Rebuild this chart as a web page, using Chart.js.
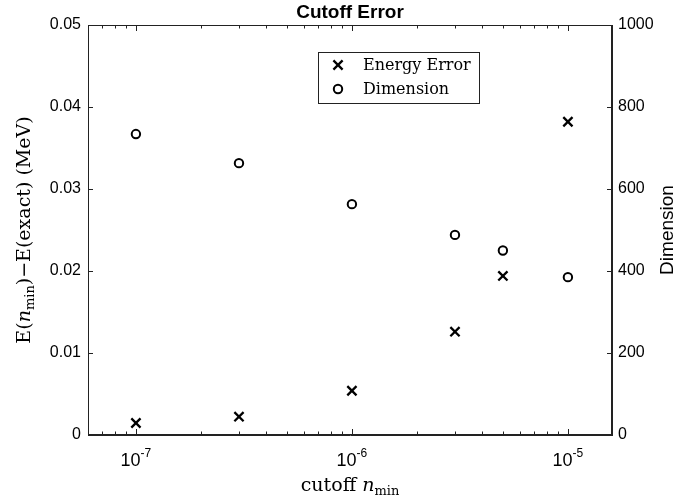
<!DOCTYPE html>
<html>
<head>
<meta charset="utf-8">
<script src="https://cdn.jsdelivr.net/npm/chart.js@4.4.1/dist/chart.umd.min.js"></script>
<style>
  html, body { margin: 0; padding: 0; background: #fff; }
  #wrap { width: 679px; height: 504px; }
</style>
</head>
<body>
<div id="wrap"><canvas id="chart" width="679" height="504"></canvas></div>
<script>
// values
const cutoffs = [1e-7, 3e-7, 1e-6, 3e-6, 5e-6, 1e-5];
const energyError = [0.00146, 0.00223, 0.0054, 0.0126, 0.0194, 0.0382];
const dimension = [734, 663, 563, 488, 450, 385];

const xMajorTicks = [1e-7, 1e-6, 1e-5];
const xMinorSteps = [2, 3, 4, 5, 6, 7, 8, 9];
const yLeftTicks = [0, 0.01, 0.02, 0.03, 0.04, 0.05];
const yRightTicks = [0, 200, 400, 600, 800, 1000];

const X_MIN = 6.2e-8, X_MAX = 1.6e-5;
const INK = '#222';
const SANS = '"Liberation Sans", Arial, sans-serif';
const SERIF = '"DejaVu Serif", "Liberation Serif", serif';

// all log ticks (majors + minors) inside the range
const xAllTicks = [];
for (let e = -8; e <= -5; e++) {
    [1].concat(xMinorSteps).forEach(k => {
        const v = k * Math.pow(10, e);
        if (v >= X_MIN && v <= X_MAX) xAllTicks.push({ value: v, major: k === 1 });
    });
}

// draw a line of text made of parts (normal / italic / subscript), centred on cx
function drawRich(ctx, parts, cx, baseline) {
    let total = 0;
    parts.forEach(p => { ctx.font = p.font; total += ctx.measureText(p.text).width; });
    let x = cx - total / 2;
    parts.forEach(p => {
        ctx.font = p.font;
        ctx.fillText(p.text, x, baseline + (p.dy || 0));
        x += ctx.measureText(p.text).width;
    });
}

const matlabAxes = {
    id: 'matlabAxes',
    afterDraw(chart) {
        const ctx = chart.ctx;
        const a = chart.chartArea;
        const xs = chart.scales.x, yl = chart.scales.y, yr = chart.scales.y1;
        ctx.save();
        ctx.strokeStyle = INK;
        ctx.lineWidth = 1;
        ctx.strokeRect(a.left + 0.5, a.top + 0.5, a.right - a.left - 1, a.bottom - a.top - 1);

        // inward tick marks
        ctx.beginPath();
        xAllTicks.forEach(t => {
            const px = Math.round(xs.getPixelForValue(t.value)) + 0.5;
            const len = t.major ? 6 : 3.5;
            ctx.moveTo(px, a.bottom); ctx.lineTo(px, a.bottom - len);
            ctx.moveTo(px, a.top); ctx.lineTo(px, a.top + len);
        });
        yLeftTicks.forEach(v => {
            const py = Math.round(yl.getPixelForValue(v)) + 0.5;
            ctx.moveTo(a.left, py); ctx.lineTo(a.left + 5, py);
        });
        yRightTicks.forEach(v => {
            const py = Math.round(yr.getPixelForValue(v)) + 0.5;
            ctx.moveTo(a.right, py); ctx.lineTo(a.right - 5, py);
        });
        ctx.stroke();

        ctx.fillStyle = '#000';
        // x tick labels 10^n
        ctx.textAlign = 'left';
        ctx.textBaseline = 'alphabetic';
        xMajorTicks.forEach(v => {
            const px = xs.getPixelForValue(v);
            const exp = String(Math.round(Math.log10(v)));
            drawRich(ctx, [
                { text: '10', font: '18px ' + SANS },
                { text: exp, font: '12px ' + SANS, dy: -9 }
            ], px, 466);
        });

        // title
        ctx.textAlign = 'center';
        ctx.font = 'bold 19px ' + SANS;
        ctx.fillText('Cutoff Error', (a.left + a.right) / 2, 18);

        // x axis title
        ctx.textAlign = 'left';
        drawRich(ctx, [
            { text: 'cutoff ', font: '19px ' + SERIF },
            { text: 'n', font: 'italic 19px ' + SERIF },
            { text: 'min', font: '13px ' + SERIF, dy: 4 }
        ], (a.left + a.right) / 2, 491);

        // left y title (rotated)
        ctx.save();
        ctx.translate(30, (a.top + a.bottom) / 2);
        ctx.rotate(-Math.PI / 2);
        drawRich(ctx, [
            { text: 'E(', font: '19px ' + SERIF },
            { text: 'n', font: 'italic 19px ' + SERIF },
            { text: 'min', font: '13px ' + SERIF, dy: 4 },
            { text: ')\u2212E(exact) (MeV)', font: '19px ' + SERIF }
        ], 0, 0);
        ctx.restore();

        // right y title
        ctx.save();
        ctx.translate(673, (a.top + a.bottom) / 2);
        ctx.rotate(-Math.PI / 2);
        ctx.textAlign = 'center';
        ctx.font = '19px ' + SANS;
        ctx.fillText('Dimension', 0, 0);
        ctx.restore();

        // legend
        const lx = 318, ly = 52, lw = 161, lh = 51;
        ctx.fillStyle = '#fff';
        ctx.fillRect(lx, ly, lw, lh);
        ctx.strokeStyle = INK;
        ctx.lineWidth = 1;
        ctx.strokeRect(lx + 0.5, ly + 0.5, lw, lh);
        const rows = chart.data.datasets;
        rows.forEach((ds, i) => {
            const cy = ly + 13 + i * 24;
            const mx = lx + 20;
            ctx.strokeStyle = '#000';
            ctx.lineWidth = ds.borderWidth;
            ctx.beginPath();
            if (ds.pointStyle === 'crossRot') {
                const d = ds.pointRadius * Math.SQRT1_2;
                ctx.moveTo(mx - d, cy - d); ctx.lineTo(mx + d, cy + d);
                ctx.moveTo(mx - d, cy + d); ctx.lineTo(mx + d, cy - d);
            } else {
                ctx.arc(mx, cy, ds.pointRadius, 0, Math.PI * 2);
            }
            ctx.stroke();
            ctx.fillStyle = '#000';
            ctx.font = '16px ' + SERIF;
            ctx.textAlign = 'left';
            ctx.textBaseline = 'middle';
            ctx.fillText(ds.label, lx + 45, cy + 1);
        });
        ctx.restore();
    }
};

new Chart(document.getElementById('chart'), {
    type: 'scatter',
    data: {
        datasets: [
            {
                label: 'Energy Error',
                data: cutoffs.map((c, i) => ({ x: c, y: energyError[i] })),
                yAxisID: 'y',
                pointStyle: 'crossRot',
                pointRadius: 6.5,
                borderWidth: 2.3,
                borderColor: '#000',
                backgroundColor: '#000'
            },
            {
                label: 'Dimension',
                data: cutoffs.map((c, i) => ({ x: c, y: dimension[i] })),
                yAxisID: 'y1',
                pointStyle: 'circle',
                pointRadius: 4.2,
                borderWidth: 2,
                borderColor: '#000',
                backgroundColor: 'rgba(0,0,0,0)'
            }
        ]
    },
    options: {
        responsive: false,
        animation: false,
        layout: { padding: { top: 25, left: 0, right: 0, bottom: 0 } },
        plugins: {
            legend: { display: false },
            tooltip: { enabled: false },
            title: { display: false }
        },
        scales: {
            x: {
                type: 'logarithmic',
                min: X_MIN,
                max: X_MAX,
                grid: { display: false, drawTicks: false },
                border: { display: true, color: INK },
                ticks: { display: false },
                afterBuildTicks: s => { s.ticks = xAllTicks.map(t => ({ value: t.value })); },
                afterFit: s => { s.height = 69; }
            },
            y: {
                position: 'left',
                min: 0,
                max: 0.05,
                grid: { display: false, drawTicks: false },
                border: { display: true, color: INK },
                ticks: {
                    color: '#000',
                    padding: 7,
                    font: { family: SANS, size: 16 },
                    callback: v => (v === 0 ? '0' : v.toFixed(2))
                },
                afterBuildTicks: s => { s.ticks = yLeftTicks.map(v => ({ value: v })); },
                afterFit: s => { s.width = 88; }
            },
            y1: {
                position: 'right',
                min: 0,
                max: 1000,
                grid: { display: false, drawTicks: false },
                border: { display: true, color: INK },
                ticks: {
                    color: '#000',
                    padding: 6,
                    font: { family: SANS, size: 16 },
                    callback: v => String(v)
                },
                afterBuildTicks: s => { s.ticks = yRightTicks.map(v => ({ value: v })); },
                afterFit: s => { s.width = 67; }
            }
        }
    },
    plugins: [matlabAxes]
});
</script>
</body>
</html>
